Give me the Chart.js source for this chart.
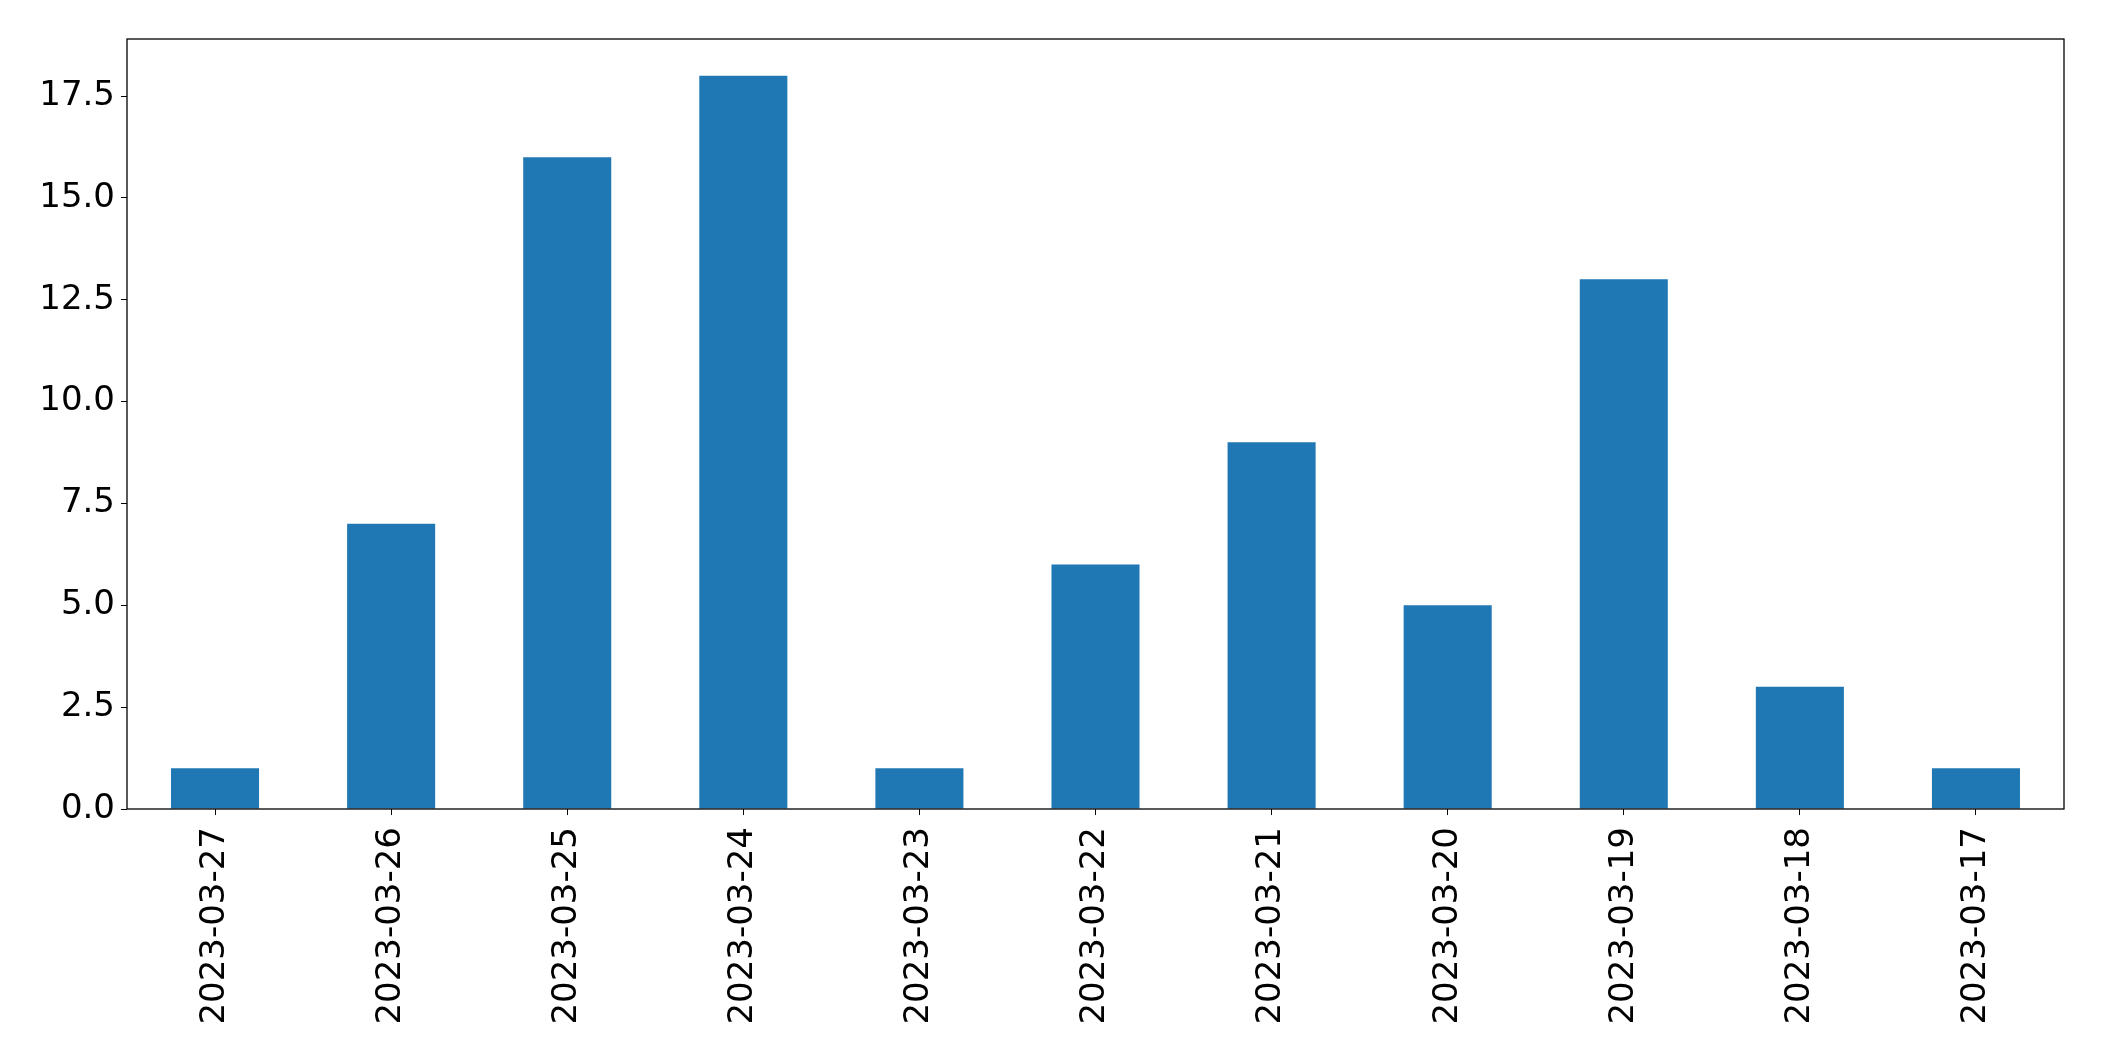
<!DOCTYPE html>
<html>
<head>
<meta charset="utf-8">
<script src="https://cdn.jsdelivr.net/npm/chart.js@4"></script>
<style>
  body { margin: 0; background: #fff; }
  canvas { display: block; }
</style>
</head>
<body>
<canvas id="dateChart" width="2104" height="1061"></canvas>
<script>
// data
const dates = ['2023-03-27', '2023-03-26', '2023-03-25', '2023-03-24', '2023-03-23', '2023-03-22',
               '2023-03-21', '2023-03-20', '2023-03-19', '2023-03-18', '2023-03-17'];
const counts = [1, 7, 16, 18, 1, 6, 9, 5, 13, 3, 1];
const yMax = 18.9;
const yStep = 2.5;

// garis kotak di sekeliling area plot
const frame = {
    id: 'frame',
    afterDraw(chart) {
        const a = chart.chartArea;
        const c = chart.ctx;
        c.save();
        c.strokeStyle = '#000';
        c.lineWidth = 1.3;
        c.strokeRect(a.left, a.top, a.right - a.left, a.bottom - a.top);
        c.restore();
    }
};

const ctx = document.getElementById('dateChart').getContext('2d');
const chart = new Chart(ctx, {
    type: 'bar',
    data: {
        labels: dates,
        datasets: [{
            data: counts,
            backgroundColor: '#1f77b4',
            barPercentage: 0.5,
            categoryPercentage: 1.0
        }]
    },
    options: {
        responsive: false,
        animation: false,
        devicePixelRatio: 1,
        layout: { padding: { top: 39, right: 40, left: 0, bottom: 0 } },
        plugins: { legend: { display: false }, tooltip: { enabled: false } },
        scales: {
            x: {
                grid: { offset: false, drawOnChartArea: false, drawTicks: true, tickLength: 6, color: '#000' },
                border: { display: false },
                ticks: {
                    minRotation: 90, maxRotation: 90, padding: 12, color: '#000',
                    font: { family: 'DejaVu Sans', size: 34 }
                },
                afterFit: function(scale) { scale.height = 252; }
            },
            y: {
                min: 0,
                max: yMax,
                grid: { drawOnChartArea: false, drawTicks: true, tickLength: 6, color: '#000' },
                border: { display: false },
                ticks: {
                    stepSize: yStep, includeBounds: false, padding: 6, color: '#000',
                    font: { family: 'DejaVu Sans', size: 34 },
                    callback: function(value) { return value.toFixed(1); }
                },
                afterFit: function(scale) { scale.width = 127; }
            }
        }
    },
    plugins: [frame]
});
</script>
</body>
</html>
